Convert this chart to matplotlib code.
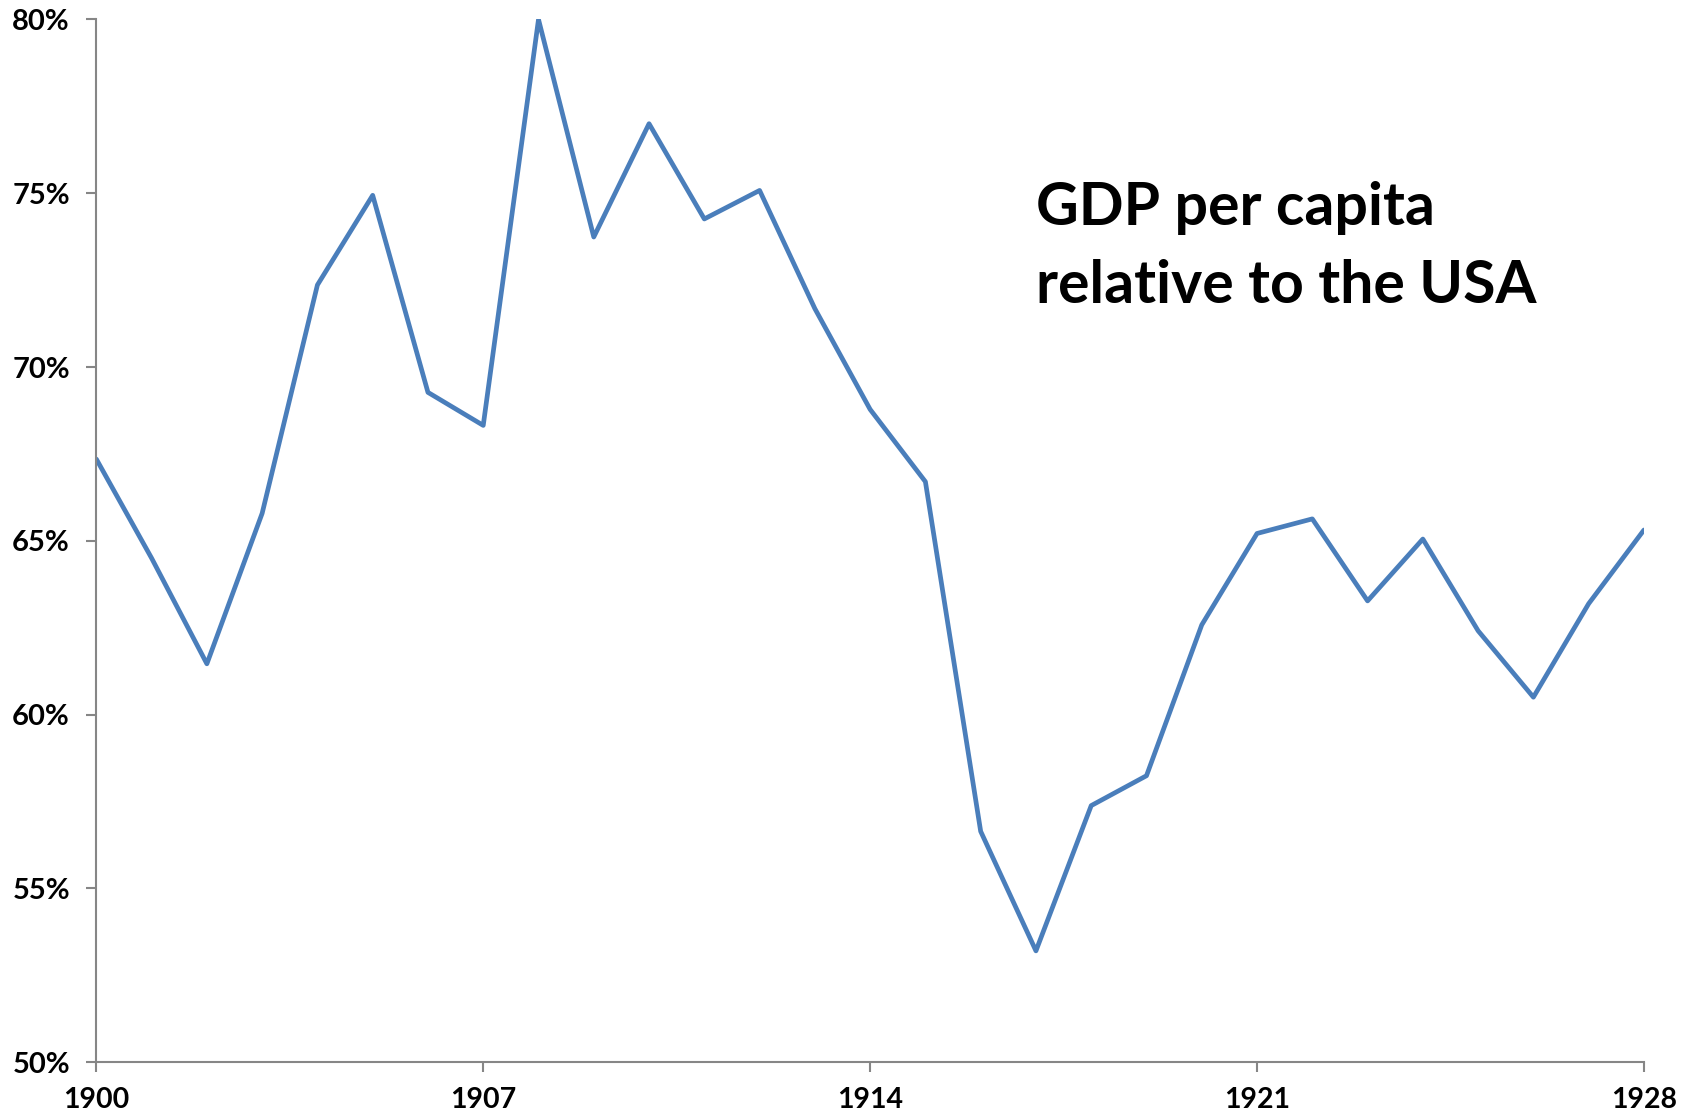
import numpy as np
import matplotlib
matplotlib.use("Agg")
import matplotlib.pyplot as plt
from matplotlib.ticker import FuncFormatter

plt.rcParams['font.family'] = ['Lato', 'DejaVu Sans']

# GDP per capita as a share of the US level, 1900-1928 (%)
anos = np.arange(1900, 1929)
relativo = [67.35, 64.5, 61.46, 65.79, 72.36, 74.94, 69.27, 68.32, 80.0, 73.74,
            77.0, 74.26, 75.08, 71.68, 68.78, 66.7, 56.64, 53.2, 57.38, 58.24,
            62.58, 65.21, 65.63, 63.27, 65.05, 62.41, 60.5, 63.19, 65.31]
anos_ticks = [1900, 1907, 1914, 1921, 1928]
y_ticks = [50, 55, 60, 65, 70, 75, 80]
titulo = "GDP per capita\nrelative to the USA"

fig = plt.figure(figsize=(16.96, 11.18), dpi=100)
ax = fig.add_axes([0.0568, 0.05, 0.9125, 0.9326])

ax.plot(anos, relativo, color='#4A7EBB', linewidth=3.4, solid_joinstyle='round',
        solid_capstyle='round')

ax.set_xlim(1900, 1928)
ax.set_ylim(50, 80)
ax.set_xticks(anos_ticks)
ax.set_yticks(y_ticks)
ax.yaxis.set_major_formatter(FuncFormatter(lambda v, p: f"{v:.0f}%"))

for lado in ['top', 'right']:
    ax.spines[lado].set_visible(False)
for lado in ['left', 'bottom']:
    ax.spines[lado].set_color('#868686')
    ax.spines[lado].set_linewidth(1.5)

ax.tick_params(axis='both', direction='out', length=7, width=1.5, color='#868686')
ax.tick_params(axis='x', pad=11, labelsize=20.5)
ax.tick_params(axis='y', pad=12, labelsize=21)
for rotulo in ax.get_xticklabels() + ax.get_yticklabels():
    rotulo.set_fontweight('bold')

fig.text(0.611, 0.729, titulo, fontsize=42.5, fontweight='bold', ha='left',
         va='baseline', linespacing=1.55)

fig.savefig("out.png", dpi=100)
